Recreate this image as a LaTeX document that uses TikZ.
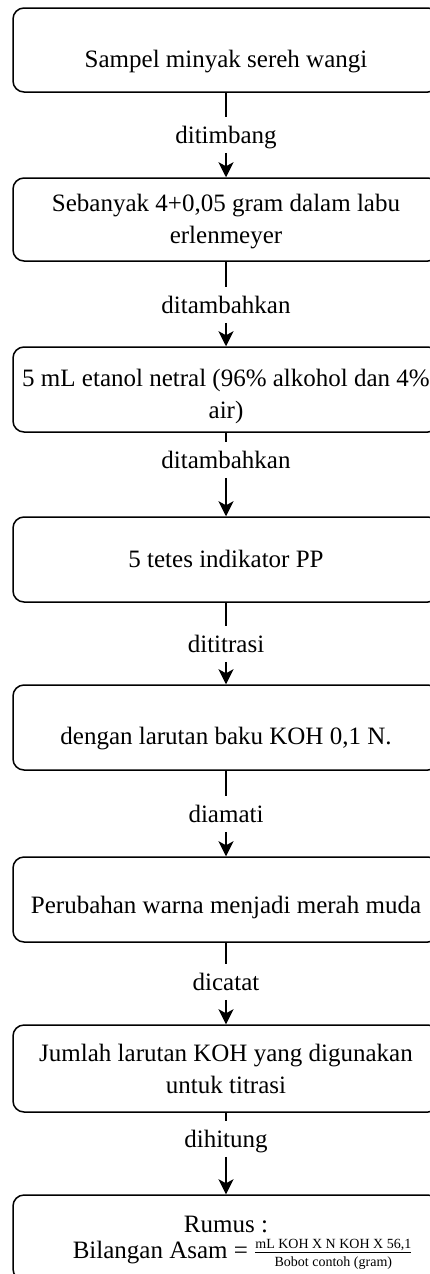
\documentclass[tikz,border=0pt]{standalone}
\usepackage{fontspec}
\setmainfont{Liberation Serif}
\usetikzlibrary{arrows.meta}
\newcommand\fracsize{\fontsize{14}{16}\selectfont}
\begin{document}
\begin{tikzpicture}[x=1pt,y=-1pt, line width=1.5pt,
  stepbox/.style={draw, rounded corners=11pt, minimum width=426pt, inner sep=0pt},
  boxtext/.style={font=\fontsize{25}{32}\selectfont, align=center, inner sep=0pt, anchor=base},
  flowlabel/.style={font=\fontsize{25}{32}\selectfont, text height=18pt, text depth=2pt, inner xsep=2pt, inner ysep=7pt, anchor=base},
  flowarrow/.style={-{Stealth[length=15pt,width=15pt,inset=4pt]}}]
\useasboundingbox (0,0) rectangle (430,1274);
% boxes
\node[stepbox, minimum height=84pt] (b1) at (226,50) {};
\node[stepbox, minimum height=83pt] (b2) at (226,219.5) {};
\node[stepbox, minimum height=85pt] (b3) at (226,389.5) {};
\node[stepbox, minimum height=85pt] (b4) at (226,559.5) {};
\node[stepbox, minimum height=85pt] (b5) at (226,727.5) {};
\node[stepbox, minimum height=85pt] (b6) at (226,899.5) {};
\node[stepbox, minimum height=87pt] (b7) at (226,1068.5) {};
\node[stepbox, minimum height=85pt] (b8) at (226,1237.5) {};
% box texts (base anchor = baseline of last line)
\node[boxtext] (t1) at (226,67) {Sampel minyak sereh wangi};
\node[boxtext] (t2) at (226,243) {Sebanyak 4+0,05 gram dalam labu\\erlenmeyer};
\node[boxtext] (t3) at (226,418) {5 mL etanol netral (96\% alkohol dan 4\%\\air)};
\node[boxtext] (t4) at (226,567) {5 tetes indikator PP};
\node[boxtext] (t5) at (226,744) {dengan larutan baku KOH 0,1 N.};
\node[boxtext] (t6) at (226,913) {Perubahan warna menjadi merah muda};
\node[boxtext] (t7) at (226,1093) {Jumlah larutan KOH yang digunakan\\untuk titrasi};
\node[boxtext] (t8a) at (226,1232) {Rumus :};
\node[boxtext, anchor=base west] (t8b) at (72,1258) {Bilangan Asam = $\frac{\hbox{\fracsize mL KOH X N KOH X 56,1}}{\hbox{\fracsize Bobot contoh (gram)}}$};
% labels
\node[flowlabel] (l1) at (226,143) {ditimbang};
\node[flowlabel] (l2) at (226,313) {ditambahkan};
\node[flowlabel] (l3) at (226,468) {ditambahkan};
\node[flowlabel] (l4) at (226,652) {dititrasi};
\node[flowlabel] (l5) at (226,822) {diamati};
\node[flowlabel] (l6) at (226,990) {dicatat};
\node[flowlabel] (l7) at (226,1147) {dihitung};
% connectors
\draw (b1) -- (l1); \draw[flowarrow] (l1) -- (b2);
\draw (b2) -- (l2); \draw[flowarrow] (l2) -- (b3);
\draw (b3) -- (l3); \draw[flowarrow] (l3) -- (b4);
\draw (b4) -- (l4); \draw[flowarrow] (l4) -- (b5);
\draw (b5) -- (l5); \draw[flowarrow] (l5) -- (b6);
\draw (b6) -- (l6); \draw[flowarrow] (l6) -- (b7);
\draw (b7) -- (l7); \draw[flowarrow] (l7) -- (b8);
\end{tikzpicture}
\end{document}
